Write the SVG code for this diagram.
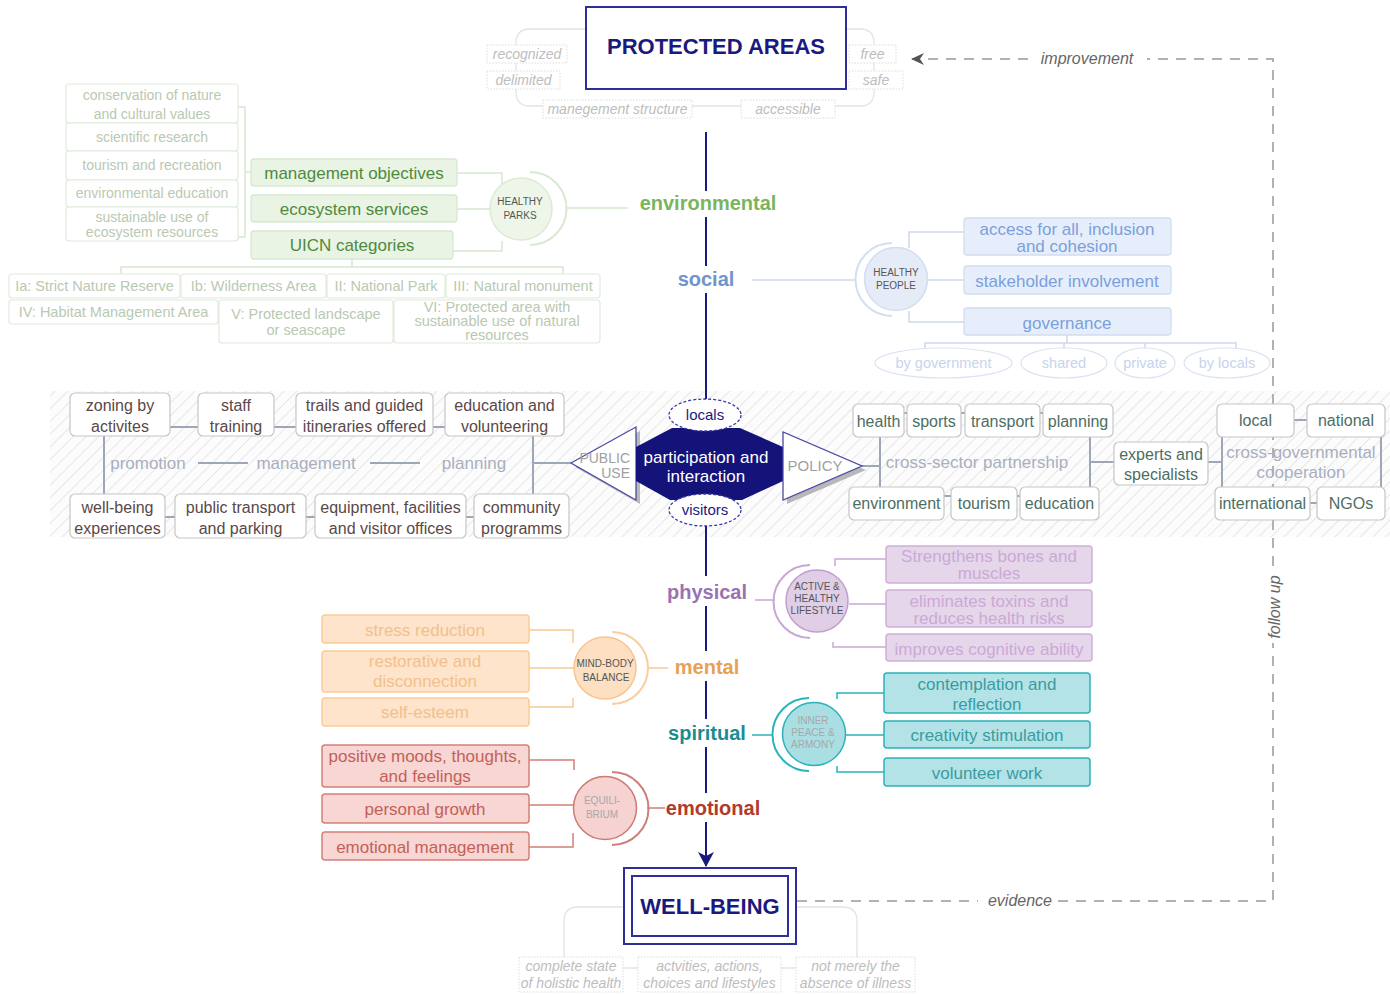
<svg xmlns="http://www.w3.org/2000/svg" width="1390" height="995" viewBox="0 0 1390 995">
<defs>
<pattern id="hatch" width="9" height="9" patternUnits="userSpaceOnUse" patternTransform="rotate(45)">
<rect width="9" height="9" fill="#fcfcfc"/>
<line x1="0" y1="0" x2="0" y2="9" stroke="#dadada" stroke-width="1.2"/>
</pattern>
<marker id="arrNavy" markerWidth="16" markerHeight="16" refX="14" refY="8" orient="auto" markerUnits="userSpaceOnUse">
<path d="M0,0 L15,8 L0,16 L4,8 z" fill="#1a1a7e"/>
</marker>
<marker id="arrGray" markerWidth="14" markerHeight="12" refX="12" refY="6" orient="auto" markerUnits="userSpaceOnUse">
<path d="M0,0 L13,6 L0,12 L4,6 z" fill="#555"/>
</marker>
<style>
text{font-family:"Liberation Sans",Arial,Helvetica,sans-serif;text-anchor:middle;}
.navy{fill:#1a1a7e;}
.title{font-size:22px;font-weight:bold;fill:#1a1a7e;}
.tag{fill:#fff;stroke:#dcdcdc;stroke-width:1;stroke-dasharray:1.5 1.5;}
.tagt{font-size:14px;font-style:italic;fill:#bdbdbd;}
.frame{fill:none;stroke:#e4e4e4;stroke-width:1.3;}
.dim{font-size:20px;font-weight:bold;}
.spine{stroke:#1a1a7e;stroke-width:2;fill:none;}
.gstack{fill:#fff;stroke:#e0ebdb;stroke-width:1.2;}
.gstackt{font-size:14px;fill:#b9c9b2;}
.gbox{fill:#e9f4e5;stroke:#d6e9cf;stroke-width:1.3;}
.gboxt{font-size:17px;fill:#4f8a3e;}
.gline{fill:none;stroke:#d8e8d0;stroke-width:1.5;}
.uicn{fill:#fff;stroke:#e0ebdb;stroke-width:1.2;}
.uicnt{font-size:14.5px;fill:#b9c9b2;}
.bbox{fill:#e6eefb;stroke:#d2ddf1;stroke-width:1.3;}
.bboxt{font-size:17px;fill:#7c9fdc;}
.bline{fill:none;stroke:#cdd8ee;stroke-width:1.5;}
.bell{fill:#fff;stroke:#dbe3f2;stroke-width:1.2;}
.bellt{font-size:14.5px;fill:#c6d4ef;}
.circt{font-size:10px;fill:#555;}
.circl{font-size:10px;fill:#a8a8a8;}
.wbox{fill:#fff;stroke:#c6c6c6;stroke-width:1.2;}
.wlt{font-size:16px;fill:#5a4848;}
.wrt{font-size:16px;fill:#4d6e63;}
.wline{fill:none;stroke:#9ea7b8;stroke-width:2;}
.soft{font-size:17px;fill:#a9afbe;}
.pbox{fill:#e5d6ea;stroke:#cdb0d8;stroke-width:1.5;}
.pboxt{font-size:17px;fill:#cba9d6;}
.pline{fill:none;stroke:#c9a6d4;stroke-width:1.5;}
.tbox{fill:#b3e3e7;stroke:#2bb3bb;stroke-width:1.5;}
.tboxt{font-size:17px;fill:#3a9c9f;}
.tline{fill:none;stroke:#2bb3bb;stroke-width:1.5;}
.obox{fill:#fee4cb;stroke:#fbcb98;stroke-width:1.5;}
.oboxt{font-size:17px;fill:#f2c08c;}
.oline{fill:none;stroke:#f9c996;stroke-width:1.5;}
.rbox{fill:#f7d6d3;stroke:#d4807a;stroke-width:1.5;}
.rboxt{font-size:17px;fill:#c46058;}
.rline{fill:none;stroke:#cf7f77;stroke-width:1.5;}
.dash{fill:none;stroke:#999;stroke-width:1.5;stroke-dasharray:10 8;}
.loopt{font-size:16px;font-style:italic;fill:#666;}
</style>
</defs>
<rect width="1390" height="995" fill="#fff"/>

<!-- hatched band -->
<rect x="50" y="391" width="1340" height="146" fill="url(#hatch)"/>

<g id="connectors">
<path class="spine" d="M706 132 V191 M706 217 V266 M706 293 V399 M706 526 V576 M706 606 V651 M706 681 V719 M706 747 V793"/>
<path class="spine" d="M706 822 V866" marker-end="url(#arrNavy)"/>
<path class="dash" d="M797 901 H978 M1058 901 H1273 V643 M1273 566 V59 H1147"/>
<path class="dash" d="M1028 59 H912" marker-end="url(#arrGray)"/>
<path class="frame" d="M586 29 H530 Q516 29 516 43 V92 Q516 106 530 106 H543 M692 106 H741 M846 29 H860 Q874 29 874 43 V92 Q874 106 860 106 H835"/>
<path class="frame" d="M624 907 H578 Q564 907 564 921 V957 M796 907 H843 Q857 907 857 921 V957 M623 968 H638 M781 968 H796"/>
<path class="gline" d="M238 107 H245 V237 H238 M245 172 H251 M457 173 H502 V186 M457 209 H490 M453 251 H502 V241 M565 208 H628 M352 259 V267 M121 274 V267 H563 V274"/>
<path class="bline" d="M752 280 H855 M928 280 H964 M909 248 V232 H964 M909 311 V322 H964 M1067 335 V343 M925 348 V343 H1236 V348 M1064 343 V348 M1145 343 V348"/>
<path class="wline" d="M170 427 H198 M274 427 H296 M433 427 H445 M165 517 H175 M306 517 H315 M466 517 H474 M104 436 V494 M533 436 V494 M533 463 H571 M198 463 H248 M370 463 H420"/>
<path class="wline" d="M862 466 H880 M880 437 V487 M1090 437 V487 M1090 462 H1114 M1208 462 H1222 M1222 437 V487 M1381 437 V487 M1294 420 H1307 M1310 503 H1317 M904 413 H907 M961 413 H965 M1040 413 H1043 M944 496 H951 M1017 496 H1020"/>
<path class="pline" d="M755 600 H775 M835 566 V559 H886 M849 604 H886 M833 642 V647 H886"/>
<path class="tline" d="M752 735 H773 M837 699 V693 H884 M846 735 H884 M837 766 V772 H884"/>
<path class="oline" d="M648 668 H668 M529 630 H573 V643 M529 668 H574 M529 707 H573 V698"/>
<path class="rline" d="M647 808 H665 M529 760 H574 V770 M529 805 H573 M529 847 H573 V833"/>
</g>

<text class="loopt" x="1087" y="64">improvement</text>
<text class="loopt" x="1020" y="906">evidence</text>
<text class="loopt" transform="translate(1280,607) rotate(-90)">follow up</text>

<g id="protected-areas">
<rect x="586" y="7" width="260" height="82" fill="#fff" stroke="#2e2e9a" stroke-width="2"/>
<text class="title" x="716" y="54">PROTECTED AREAS</text>
</g>
<g id="pa-tags">
<rect class="tag" x="487" y="45" width="80" height="18"/><text class="tagt" x="527" y="59">recognized</text>
<rect class="tag" x="487" y="71" width="73" height="18"/><text class="tagt" x="523.5" y="85">delimited</text>
<rect class="tag" x="543" y="100" width="149" height="18"/><text class="tagt" x="617.5" y="114">manegement structure</text>
<rect class="tag" x="741" y="100" width="94" height="18"/><text class="tagt" x="788" y="114">accessible</text>
<rect class="tag" x="849" y="45" width="47" height="18"/><text class="tagt" x="872.5" y="59">free</text>
<rect class="tag" x="849" y="71" width="54" height="18"/><text class="tagt" x="876" y="85">safe</text>
</g>

<g id="dim-labels">
<text class="dim" x="708" y="210" fill="#7ab55c">environmental</text>
<text class="dim" x="706" y="286" fill="#7094cc">social</text>
<text class="dim" x="707" y="599" fill="#9b72b0">physical</text>
<text class="dim" x="707" y="674" fill="#e6a157">mental</text>
<text class="dim" x="707" y="740" fill="#1d8c91">spiritual</text>
<text class="dim" x="713" y="815" fill="#b23a2b">emotional</text>
</g>

<g id="healthy-parks">
<path d="M530 172 A36.5 36.5 0 0 1 530 245" fill="none" stroke="#d8e9d0" stroke-width="2"/>
<circle cx="521" cy="209" r="31" fill="#eef6ea" stroke="#dbebd3" stroke-width="1.5"/>
<text class="circt" x="520" y="205">HEALTHY</text>
<text class="circt" x="520" y="219">PARKS</text>
</g>
<g id="env-objectives">
<rect class="gstack" x="66" y="84" width="172" height="39" rx="3"/>
<text class="gstackt" x="152" y="100">conservation of nature</text>
<text class="gstackt" x="152" y="119">and cultural values</text>
<rect class="gstack" x="66" y="123" width="172" height="28" rx="3"/>
<text class="gstackt" x="152" y="142">scientific research</text>
<rect class="gstack" x="66" y="151" width="172" height="29" rx="3"/>
<text class="gstackt" x="152" y="170">tourism and recreation</text>
<rect class="gstack" x="66" y="180" width="172" height="27" rx="3"/>
<text class="gstackt" x="152" y="198">environmental education</text>
<rect class="gstack" x="66" y="207" width="172" height="34" rx="3"/>
<text class="gstackt" x="152" y="222">sustainable use of</text>
<text class="gstackt" x="152" y="237">ecosystem resources</text>
</g>
<g id="management-objectives"><rect class="gbox" x="251" y="159" width="206" height="27" rx="3"/><text class="gboxt" x="354" y="179">management objectives</text></g>
<g id="ecosystem-services"><rect class="gbox" x="251" y="195" width="206" height="27" rx="3"/><text class="gboxt" x="354" y="215">ecosystem services</text></g>
<g id="uicn-categories"><rect class="gbox" x="251" y="231" width="202" height="28" rx="3"/><text class="gboxt" x="352" y="251">UICN categories</text></g>
<g id="uicn-list">
<rect class="uicn" x="9" y="274" width="171" height="24" rx="3"/><text class="uicnt" x="94.5" y="291">Ia: Strict Nature Reserve</text>
<rect class="uicn" x="181" y="274" width="145" height="24" rx="3"/><text class="uicnt" x="253.5" y="291">Ib: Wilderness Area</text>
<rect class="uicn" x="327" y="274" width="118" height="24" rx="3"/><text class="uicnt" x="386" y="291">II: National Park</text>
<rect class="uicn" x="446" y="274" width="154" height="24" rx="3"/><text class="uicnt" x="523" y="291">III: Natural monument</text>
<rect class="uicn" x="9" y="300" width="209" height="24" rx="3"/><text class="uicnt" x="113.5" y="317">IV: Habitat Management Area</text>
<rect class="uicn" x="219" y="300" width="174" height="43" rx="3"/><text class="uicnt" x="306" y="319">V: Protected landscape</text><text class="uicnt" x="306" y="335">or seascape</text>
<rect class="uicn" x="394" y="300" width="206" height="43" rx="3"/><text class="uicnt" x="497" y="312" font-size="14">VI: Protected area with</text><text class="uicnt" x="497" y="326" font-size="14">sustainable use of natural</text><text class="uicnt" x="497" y="340" font-size="14">resources</text>
</g>

<g id="healthy-people">
<path d="M892 243 A36.5 36.5 0 0 0 892 316" fill="none" stroke="#d5def0" stroke-width="2"/>
<circle cx="896" cy="279" r="31.5" fill="#e6ecf7" stroke="#d2ddf1" stroke-width="1.5"/>
<text class="circt" x="896" y="275.5">HEALTHY</text>
<text class="circt" x="896" y="289">PEOPLE</text>
</g>
<g id="access"><rect class="bbox" x="964" y="218" width="207" height="37" rx="3"/><text class="bboxt" x="1067" y="235">access for all, inclusion</text><text class="bboxt" x="1067" y="252">and cohesion</text></g>
<g id="stakeholder"><rect class="bbox" x="964" y="266" width="207" height="28" rx="3"/><text class="bboxt" x="1067" y="287">stakeholder involvement</text></g>
<g id="governance"><rect class="bbox" x="964" y="308" width="207" height="27" rx="3"/><text class="bboxt" x="1067" y="329">governance</text></g>
<g id="governance-types">
<ellipse class="bell" cx="943.5" cy="363" rx="68.5" ry="15"/><text class="bellt" x="943.5" y="368">by government</text>
<ellipse class="bell" cx="1064" cy="363" rx="43" ry="15"/><text class="bellt" x="1064" y="368">shared</text>
<ellipse class="bell" cx="1145" cy="363" rx="30" ry="15"/><text class="bellt" x="1145" y="368">private</text>
<ellipse class="bell" cx="1227" cy="363" rx="43" ry="15"/><text class="bellt" x="1227" y="368">by locals</text>
</g>

<g id="public-use-items">
<rect class="wbox" x="70" y="393" width="100" height="43" rx="5"/><text class="wlt" x="120" y="411">zoning by</text><text class="wlt" x="120" y="432">activites</text>
<rect class="wbox" x="198" y="393" width="76" height="43" rx="5"/><text class="wlt" x="236" y="411">staff</text><text class="wlt" x="236" y="432">training</text>
<rect class="wbox" x="296" y="393" width="137" height="43" rx="5"/><text class="wlt" x="364.5" y="411">trails and guided</text><text class="wlt" x="364.5" y="432">itineraries offered</text>
<rect class="wbox" x="445" y="393" width="119" height="43" rx="5"/><text class="wlt" x="504.5" y="411">education and</text><text class="wlt" x="504.5" y="432">volunteering</text>
<rect class="wbox" x="70" y="494" width="95" height="44" rx="5"/><text class="wlt" x="117.5" y="513">well-being</text><text class="wlt" x="117.5" y="534">experiences</text>
<rect class="wbox" x="175" y="494" width="131" height="44" rx="5"/><text class="wlt" x="240.5" y="513">public transport</text><text class="wlt" x="240.5" y="534">and parking</text>
<rect class="wbox" x="315" y="494" width="151" height="44" rx="5"/><text class="wlt" x="390.5" y="513">equipment, facilities</text><text class="wlt" x="390.5" y="534">and visitor offices</text>
<rect class="wbox" x="474" y="494" width="95" height="44" rx="5"/><text class="wlt" x="521.5" y="513">community</text><text class="wlt" x="521.5" y="534">programms</text>
<text class="soft" x="148" y="469">promotion</text>
<text class="soft" x="306" y="469">management</text>
<text class="soft" x="474" y="469">planning</text>
</g>

<g id="public-use">
<polygon points="575,467 640,431 640,504" fill="#b8b8b8"/>
<polygon points="571,463 636,427 636,500" fill="#fff" stroke="#4a4aa6" stroke-width="1.3"/>
<text x="630" y="463" font-size="14" fill="#a0a0a0" style="text-anchor:end">PUBLIC</text>
<text x="630" y="478" font-size="14" fill="#a0a0a0" style="text-anchor:end">USE</text>
</g>
<g id="participation">
<polygon points="636,447 672,428 740,428 783,447 783,481 742,500 670,500 636,481" fill="#13137a"/>
<text x="706" y="463" font-size="17" fill="#fff">participation and</text>
<text x="706" y="482" font-size="17" fill="#fff">interaction</text>
</g>
<g id="policy">
<polygon points="787,436 787,504 866,470" fill="#b8b8b8"/>
<polygon points="783,432 783,500 862,466" fill="#fff" stroke="#4a4aa6" stroke-width="1.3"/>
<text x="815" y="471" font-size="15" fill="#a0a0a0">POLICY</text>
</g>
<g id="locals">
<ellipse cx="705" cy="415" rx="36" ry="16" fill="#fff" stroke="#3a3aa6" stroke-width="1.3" stroke-dasharray="3 2"/>
<text x="705" y="420" font-size="15" class="navy">locals</text>
</g>
<g id="visitors">
<ellipse cx="705" cy="510" rx="36" ry="16" fill="#fff" stroke="#3a3aa6" stroke-width="1.3" stroke-dasharray="3 2"/>
<text x="705" y="515" font-size="15" class="navy">visitors</text>
</g>

<g id="policy-items">
<rect class="wbox" x="853" y="404" width="51" height="33" rx="5"/><text class="wrt" x="878.5" y="427">health</text>
<rect class="wbox" x="907" y="404" width="54" height="33" rx="5"/><text class="wrt" x="934" y="427">sports</text>
<rect class="wbox" x="965" y="404" width="75" height="33" rx="5"/><text class="wrt" x="1002.5" y="427">transport</text>
<rect class="wbox" x="1043" y="404" width="70" height="33" rx="5"/><text class="wrt" x="1078" y="427">planning</text>
<rect class="wbox" x="849" y="487" width="95" height="33" rx="5"/><text class="wrt" x="896.5" y="509">environment</text>
<rect class="wbox" x="951" y="487" width="66" height="33" rx="5"/><text class="wrt" x="984" y="509">tourism</text>
<rect class="wbox" x="1020" y="487" width="79" height="33" rx="5"/><text class="wrt" x="1059.5" y="509">education</text>
<text class="soft" x="977" y="468">cross-sector partnership</text>
<rect class="wbox" x="1114" y="442" width="94" height="43" rx="5"/><text class="wrt" x="1161" y="460">experts and</text><text class="wrt" x="1161" y="480">specialists</text>
<rect class="wbox" x="1217" y="404" width="77" height="33" rx="5"/><text class="wrt" x="1255.5" y="426">local</text>
<rect class="wbox" x="1307" y="404" width="78" height="33" rx="5"/><text class="wrt" x="1346" y="426">national</text>
<rect class="wbox" x="1215" y="487" width="95" height="33" rx="5"/><text class="wrt" x="1262.5" y="509">international</text>
<rect class="wbox" x="1317" y="487" width="68" height="33" rx="5"/><text class="wrt" x="1351" y="509">NGOs</text>
<text class="soft" x="1301" y="458">cross-governmental</text>
<text class="soft" x="1301" y="478">cooperation</text>
</g>

<g id="active-lifestyle">
<path d="M810 565 A36.5 36.5 0 0 0 810 638" fill="none" stroke="#c9a6d4" stroke-width="2"/>
<circle cx="817" cy="601" r="31" fill="#e0cde6" stroke="#c29dcf" stroke-width="1.5"/>
<text class="circt" x="817" y="590">ACTIVE &amp;</text>
<text class="circt" x="817" y="602">HEALTHY</text>
<text class="circt" x="817" y="614">LIFESTYLE</text>
</g>
<g id="physical-items">
<rect class="pbox" x="886" y="546" width="206" height="37" rx="3"/><text class="pboxt" x="989" y="562">Strengthens bones and</text><text class="pboxt" x="989" y="579">muscles</text>
<rect class="pbox" x="886" y="590" width="206" height="37" rx="3"/><text class="pboxt" x="989" y="607">eliminates toxins and</text><text class="pboxt" x="989" y="624">reduces health risks</text>
<rect class="pbox" x="886" y="634" width="206" height="27" rx="3"/><text class="pboxt" x="989" y="655">improves cognitive ability</text>
</g>

<g id="inner-peace">
<path d="M809 698 A36.5 36.5 0 0 0 809 771" fill="none" stroke="#2bb3bb" stroke-width="2"/>
<circle cx="814" cy="734" r="31.5" fill="#a9dfe2" stroke="#2bb3bb" stroke-width="1.5"/>
<text class="circl" x="813" y="723.5">INNER</text>
<text class="circl" x="813" y="735.5">PEACE &amp;</text>
<text class="circl" x="813" y="747.5">ARMONY</text>
</g>
<g id="spiritual-items">
<rect class="tbox" x="884" y="673" width="206" height="40" rx="3"/><text class="tboxt" x="987" y="690">contemplation and</text><text class="tboxt" x="987" y="710">reflection</text>
<rect class="tbox" x="884" y="721" width="206" height="27" rx="3"/><text class="tboxt" x="987" y="741">creativity stimulation</text>
<rect class="tbox" x="884" y="758" width="206" height="28" rx="3"/><text class="tboxt" x="987" y="779">volunteer work</text>
</g>

<g id="mind-body">
<path d="M612 632 A36 36 0 0 1 612 704" fill="none" stroke="#fbcd9c" stroke-width="2"/>
<circle cx="605" cy="668" r="31" fill="#fde0c2" stroke="#f8c48f" stroke-width="1.5"/>
<text class="circt" x="605" y="666.5">MIND-BODY</text>
<text class="circt" x="606" y="680.5">BALANCE</text>
</g>
<g id="mental-items">
<rect class="obox" x="322" y="615" width="207" height="28" rx="3"/><text class="oboxt" x="425" y="636">stress reduction</text>
<rect class="obox" x="322" y="651" width="207" height="41" rx="3"/><text class="oboxt" x="425" y="667">restorative and</text><text class="oboxt" x="425" y="687">disconnection</text>
<rect class="obox" x="322" y="698" width="207" height="28" rx="3"/><text class="oboxt" x="425" y="718">self-esteem</text>
</g>

<g id="equilibrium">
<path d="M612 772 A36.5 36.5 0 0 1 612 845" fill="none" stroke="#cf7f77" stroke-width="2"/>
<circle cx="605" cy="808" r="31.5" fill="#f6d3d0" stroke="#cc7a72" stroke-width="1.5"/>
<text class="circl" x="602" y="803.5">EQUILI-</text>
<text class="circl" x="602" y="817.5">BRIUM</text>
</g>
<g id="emotional-items">
<rect class="rbox" x="322" y="745" width="207" height="42" rx="3"/><text class="rboxt" x="425" y="762">positive moods, thoughts,</text><text class="rboxt" x="425" y="782">and feelings</text>
<rect class="rbox" x="322" y="794" width="207" height="29" rx="3"/><text class="rboxt" x="425" y="815">personal growth</text>
<rect class="rbox" x="322" y="832" width="207" height="28" rx="3"/><text class="rboxt" x="425" y="853">emotional management</text>
</g>

<g id="well-being">
<rect x="624" y="868" width="172" height="76" fill="#fff" stroke="#2e2e9a" stroke-width="2"/>
<rect x="632" y="876" width="156" height="60" fill="none" stroke="#2e2e9a" stroke-width="2"/>
<text class="title" x="710" y="914">WELL-BEING</text>
</g>
<g id="wb-tags">
<rect class="tag" x="519" y="957" width="104" height="35"/><text class="tagt" x="571" y="971">complete state</text><text class="tagt" x="571" y="988">of holistic health</text>
<rect class="tag" x="638" y="957" width="143" height="35"/><text class="tagt" x="709.5" y="971">actvities, actions,</text><text class="tagt" x="709.5" y="988">choices and lifestyles</text>
<rect class="tag" x="796" y="957" width="119" height="35"/><text class="tagt" x="855.5" y="971">not merely the</text><text class="tagt" x="855.5" y="988">absence of illness</text>
</g>
</svg>
